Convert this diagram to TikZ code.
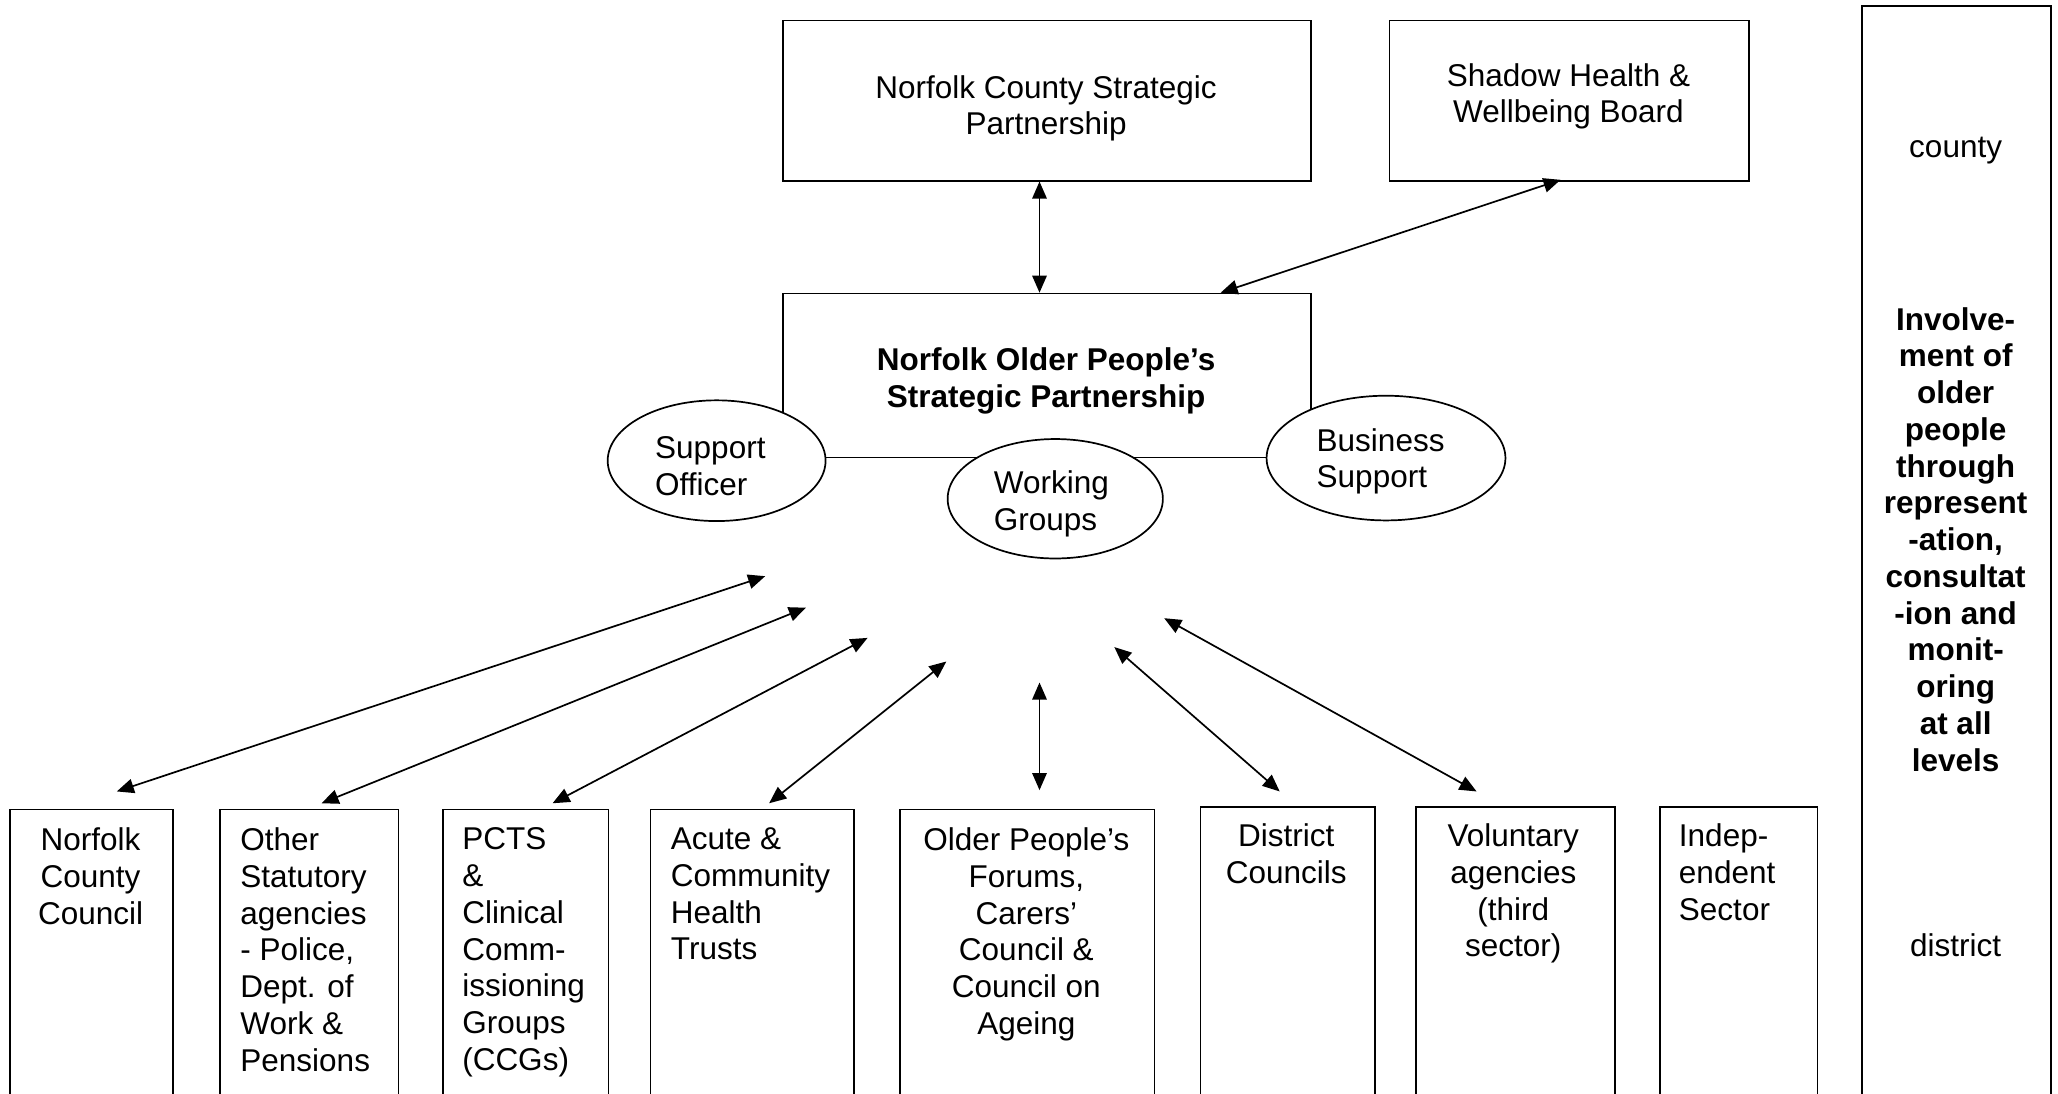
\documentclass[tikz,border=0pt]{standalone}
\usepackage{fontspec}
\setmainfont{Liberation Sans}
\usetikzlibrary{arrows.meta,shapes.geometric}
\tikzset{
  frame/.style={draw, line width=1.3pt, inner sep=0pt, rectangle},
  oval/.style={draw, fill=white, line width=1.3pt, ellipse, inner sep=0pt},
  txt/.style={inner sep=0pt, font=\fontsize{24}{28}\selectfont},
  link/.style={line width=1.3pt, {Triangle[length=13pt,width=11pt]}-{Triangle[length=13pt,width=11pt]}}
}
\begin{document}
\begin{tikzpicture}[x=1pt,y=-1pt]
\useasboundingbox (0,0) rectangle (1568,833);
\clip (0,0) rectangle (1568,833);
\fill[white] (0,0) rectangle (1568,833);

% top boxes
\node[frame, minimum width=402, minimum height=122, anchor=north west] (ncsp) at (596,15) {};
\node[frame, minimum width=274, minimum height=122, anchor=north west] (shadow) at (1058,15) {};
\node[frame, minimum width=402, minimum height=125, anchor=north west] (nopsp) at (596,223) {};

% ellipses
\node[oval, minimum width=166, minimum height=92] (support) at (546,351) {};
\node[oval, minimum width=164, minimum height=91] (working) at (804,380) {};
\node[oval, minimum width=182, minimum height=95] (business) at (1056,349) {};

% right column
\node[frame, minimum width=144, minimum height=846, anchor=north west] (levels) at (1418,4) {};

% bottom boxes
\node[frame, minimum width=124, minimum height=240, anchor=north west] (ncc) at (7,616) {};
\node[frame, minimum width=136, minimum height=240, anchor=north west] (stat) at (167,616) {};
\node[frame, minimum width=126, minimum height=240, anchor=north west] (pct) at (337,616) {};
\node[frame, minimum width=155, minimum height=240, anchor=north west] (acute) at (495,616) {};
\node[frame, minimum width=194, minimum height=240, anchor=north west] (forum) at (685,616) {};
\node[frame, minimum width=133, minimum height=240, anchor=north west] (dist) at (914,614) {};
\node[frame, minimum width=152, minimum height=240, anchor=north west] (vol) at (1078,614) {};
\node[frame, minimum width=120, minimum height=240, anchor=north west] (indep) at (1264,614) {};

% texts
\node[txt, align=center] (tncsp) at (797,82.5) {Norfolk County Strategic\\Partnership};
\node[txt, align=center] (tshadow) at (1195,73.5) {Shadow Health \&\\Wellbeing Board};
\node[txt, align=center, font=\fontsize{24}{28}\selectfont\bfseries] (tnopsp) at (797,290.5) {Norfolk Older People’s\\Strategic Partnership};
\node[txt, align=left, anchor=west] (tsupport) at (499,355) {Support\\Officer};
\node[txt, align=left, anchor=west] (tworking) at (757,384) {Working\\Groups};
\node[txt, align=left, anchor=west] (tbusiness) at (1003,351.5) {Business\\Support};

\node[txt, align=center, anchor=north] (tncc) at (69,630.5) {Norfolk\\County\\Council};
\node[txt, align=left, anchor=north west] (tstat) at (183,630.5) {Other\\Statutory\\agencies\\- Police,\\Dept. of\\Work \&\\Pensions};
\node[txt, align=left, anchor=north west] (tpct) at (352,630.5) {PCTS\\\&\\Clinical\\Comm-\\issioning\\Groups\\(CCGs)};
\node[txt, align=left, anchor=north west] (tacute) at (511,630.5) {Acute \&\\Community\\Health\\Trusts};
\node[txt, align=center, anchor=north] (tforum) at (782,630.5) {Older People’s\\Forums,\\Carers’\\Council \&\\Council on\\Ageing};
\node[txt, align=center, anchor=north] (tdist) at (980,627.5) {District\\Councils};
\node[txt, align=center, anchor=north] (tvol) at (1153,627.5) {Voluntary\\agencies\\(third\\sector)};
\node[txt, align=left, anchor=north west] (tindep) at (1279,627.5) {Indep-\\endent\\Sector};

\node[txt] (tcounty) at (1490,114.5) {county};
\node[txt, align=center, anchor=north, font=\fontsize{24}{28}\selectfont\bfseries] (tinv) at (1490,234) {Involve-\\ment of\\older\\people\\through\\represent\\-ation,\\consultat\\-ion and\\monit-\\oring\\at all\\levels};
\node[txt] (tdistrict) at (1490,720) {district};

% connectors
\coordinate (sh) at (1189,137);
\coordinate (shx) at (930,223);
\draw[link] (ncsp.south -| 792,0) -- (nopsp.north -| 792,0);
\draw[link] (sh) -- (shx);

\coordinate (a1) at (583,439); \coordinate (b1) at (89,603);
\coordinate (a2) at (614,463); \coordinate (b2) at (245,612);
\coordinate (a3) at (661,486); \coordinate (b3) at (421,612);
\coordinate (a4) at (721,504); \coordinate (b4) at (586,612);
\coordinate (a5) at (792,520); \coordinate (b5) at (792,602);
\coordinate (a6) at (849,493); \coordinate (b6) at (975,603);
\coordinate (a7) at (887,471); \coordinate (b7) at (1125,603);
\foreach \i in {1,...,7} {\draw[link] (a\i) -- (b\i);}
\end{tikzpicture}
\end{document}
